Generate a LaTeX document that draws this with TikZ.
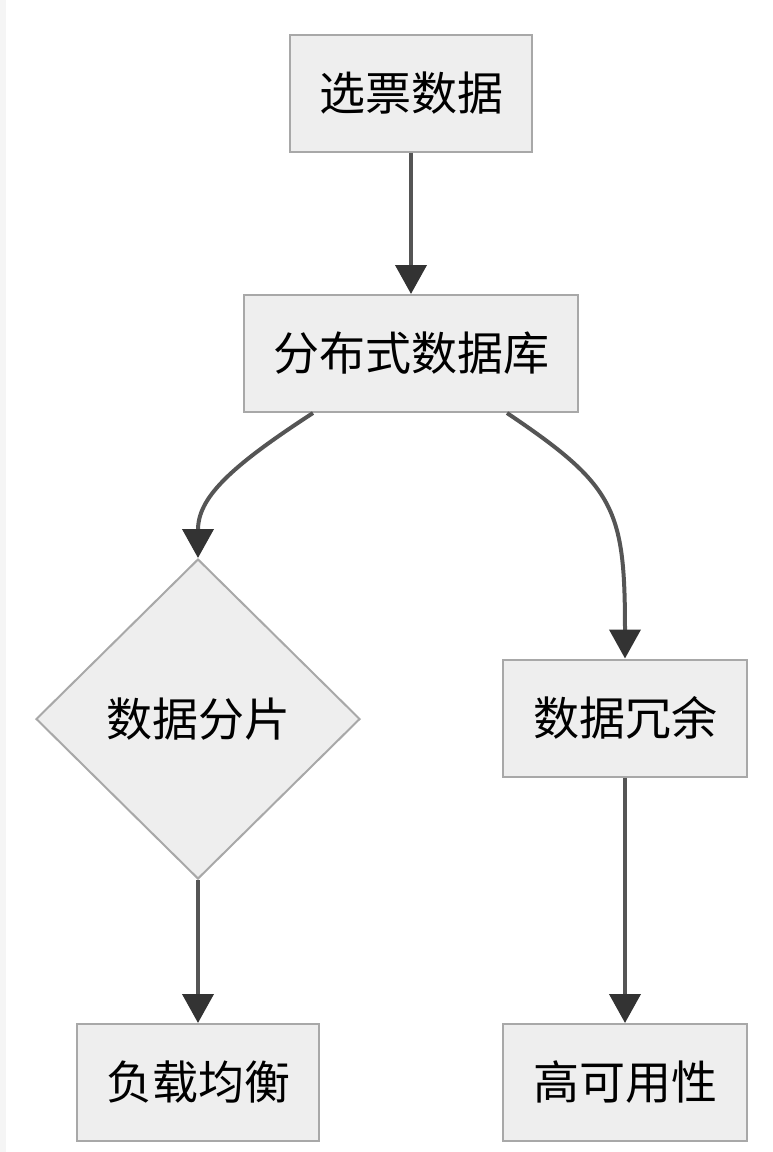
\documentclass[tikz,border=0pt]{standalone}
\usepackage{fontspec}
\setmainfont{Noto Sans CJK SC}
\usetikzlibrary{shapes.geometric,arrows.meta}
\definecolor{boxfill}{HTML}{EEEEEE}
\definecolor{boxline}{HTML}{A8A8A8}
\definecolor{edgeline}{HTML}{555555}
\definecolor{tipfill}{HTML}{333333}
\definecolor{strip}{HTML}{F5F5F5}
\tikzset{
  box/.style={draw=boxline,fill=boxfill,line width=1pt,inner sep=0pt,
    minimum height=58.5pt,font=\fontsize{23}{28}\selectfont},
  choice/.style={diamond,draw=boxline,fill=boxfill,line width=1pt,inner sep=0pt,
    minimum width=162pt,minimum height=160pt,font=\fontsize{23}{28}\selectfont},
  flow/.style={draw=edgeline,line width=2pt,
    -{Triangle[width=15.5pt,length=14.5pt,fill=tipfill,color=tipfill]}}
}
\begin{document}
\begin{tikzpicture}[x=0.5pt,y=-0.5pt]
      \useasboundingbox (0,0) rectangle (772,1152);
      \fill[strip] (0,0) rectangle (6,1152);
      \draw
        (411,93) node[box,minimum width=121pt] (vote){选票数据}
        (411,353.5) node[box,minimum width=167pt] (ddb){分布式数据库}
        (198,719) node[choice] (shard){数据分片}
        (625,718) node[box,minimum width=122pt] (redund){数据冗余}
        (198,1082.5) node[box,minimum width=121pt] (balance){负载均衡}
        (625,1082.5) node[box,minimum width=122pt] (avail){高可用性};
      \begin{scope}
        \draw[flow] (vote) to (ddb);
        \draw[flow] ([xshift=-49pt]ddb.south)
          .. controls +(-41.95pt,-27.25pt) and +(0pt,30pt) .. (shard.north);
        \draw[flow] ([xshift=48pt]ddb.south)
          .. controls +(53.9pt,-36.3pt) and +(0pt,75pt) .. (redund.north);
        \draw[flow] (shard.south) to (balance.north);
        \draw[flow] (redund) to (avail);
      \end{scope}
    \end{tikzpicture}
\end{document}
